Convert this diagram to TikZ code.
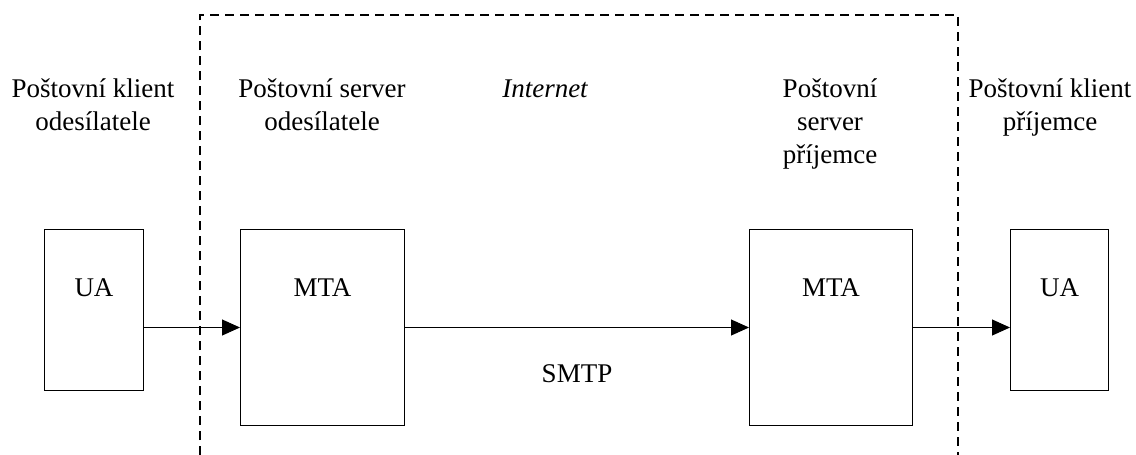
\documentclass[tikz,border=0pt]{standalone}
\usepackage{fontspec}
\setmainfont{Liberation Serif}
\usetikzlibrary{arrows.meta}

\begin{document}
\begin{tikzpicture}[x=1pt,y=-1pt,
  every node/.style={font=\fontsize{27}{33}\selectfont},
  agent/.style={rectangle,draw,line width=1pt,inner sep=0pt,anchor=north west,text height=67pt},
  role/.style={align=center,anchor=base,inner sep=0pt},
  flow/.style={-{Triangle[length=18pt,width=16pt]},line width=1pt}]
\useasboundingbox (0,0) rectangle (1136,455);
\draw[dashed,line width=1.6pt,dash pattern=on 9pt off 6pt] (200,455) -- (200,15) -- (958,15) -- (958,455);

% base of a multi-line node is its last line
\path (93,130) node[role] (lsend) {Poštovní klient\\odesílatele};
\path (322,130) node[role] (ssend) {Poštovní server\\odesílatele};
\path (545,97) node[role] (inet) {\itshape Internet};
\path (830,163) node[role] (srecv) {Poštovní\\server\\příjemce};
\path (1050,130) node[role] (lrecv) {Poštovní klient\\příjemce};

\path (44,229) node[agent,minimum width=99pt,text depth=94pt] (ua1) {UA};
\path (240,229) node[agent,minimum width=164pt,text depth=129pt] (mta1) {MTA};
\path (749,229) node[agent,minimum width=163pt,text depth=129pt] (mta2) {MTA};
\path (1010,229) node[agent,minimum width=98pt,text depth=94pt] (ua2) {UA};

\draw[flow] (ua1.east |- mta1.west) -- (mta1.west);
\draw[flow] (mta1.east) -- node[midway,below=37pt,inner sep=0pt] (smtp) {SMTP} (mta2.west);
\draw[flow] (mta2.east) -- (ua2.west |- mta2.east);
\end{tikzpicture}
\end{document}
